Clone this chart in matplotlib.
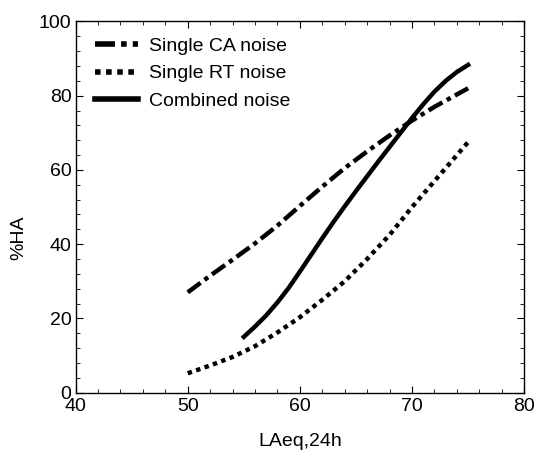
import matplotlib.pyplot as plt
from matplotlib.ticker import MultipleLocator

plt.rcParams['font.family'] = ['Liberation Sans', 'DejaVu Sans']

# curves
ca_x = [50, 52, 54, 56, 58, 60, 62, 64, 66, 68, 70, 72, 75]
ca_y = [27, 31.5, 35.8, 40.2, 45, 50.3, 55.5, 60.5, 65, 69.3, 73.3, 77, 82]

rt_x = [50, 52, 54, 56, 58, 60, 62, 64, 66, 68, 70, 72, 74, 75]
rt_y = [5.2, 7.3, 9.6, 12.5, 16.2, 20.3, 25, 30, 36, 42.5, 50, 57, 64, 67.5]

comb_x = [55, 56, 57, 58, 59, 60, 61, 62, 63, 64, 65, 66, 67, 68, 69, 70, 71, 72, 73, 74, 75]
comb_y = [15, 17.8, 20.8, 24.3, 28.2, 32.6, 37.1, 41.6, 46, 50.2, 54.3, 58.3, 62.3, 66.2,
          70.1, 74, 77.7, 81.1, 84, 86.4, 88.3]

fig = plt.figure(figsize=(5.36, 4.57), dpi=100)
ax = fig.add_axes([0.141, 0.141, 0.837, 0.812])

ax.plot(ca_x, ca_y, color='black', lw=3.2, linestyle=(0, (3.6, 1.1, 1, 1.1)), label='Single CA noise')
ax.plot(rt_x, rt_y, color='black', lw=3.2, linestyle=(0, (1, 1)), label='Single RT noise')
ax.plot(comb_x, comb_y, color='black', lw=3.2, label='Combined noise')

ax.set_xlim(40, 80)
ax.set_ylim(0, 100)
ax.xaxis.set_major_locator(MultipleLocator(10))
ax.xaxis.set_minor_locator(MultipleLocator(2))
ax.yaxis.set_major_locator(MultipleLocator(20))
ax.yaxis.set_minor_locator(MultipleLocator(4))
ax.tick_params(which='both', direction='in', top=True, right=True, labelsize=14)
ax.tick_params(axis='x', pad=4)
ax.tick_params(axis='y', pad=3)
ax.tick_params(which='major', length=5)
ax.tick_params(which='minor', length=3)
for s in ax.spines.values():
    s.set_linewidth(1)

ax.set_xlabel('LAeq,24h', fontsize=14)
ax.set_ylabel('%HA', fontsize=14)
ax.xaxis.set_label_coords(0.5, -0.109)
ax.yaxis.set_label_coords(-0.108, 0.417)

leg = ax.legend(loc='upper left', frameon=False, fontsize=14, handlelength=2.2,
                handletextpad=0.6, labelspacing=0.5, borderpad=0, borderaxespad=0,
                bbox_to_anchor=(0.043, 0.957))
for h in leg.legend_handles:
    h.set_linewidth(4)

fig.savefig('out.png', dpi=100)
